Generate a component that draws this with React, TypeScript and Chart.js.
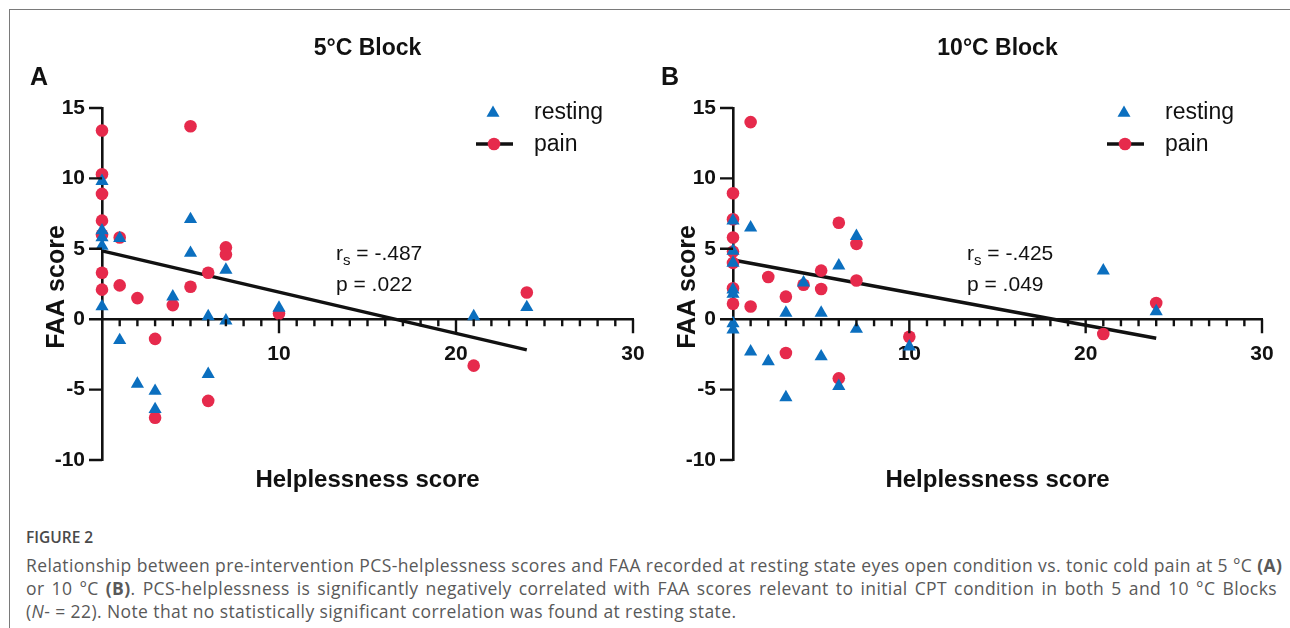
import React, { useEffect, useRef } from "react";
import { Chart, registerables } from "chart.js";

Chart.register(...registerables);

// ---------- axis ranges & ticks ----------
const X_MIN = 0;
const X_MAX = 30;
const Y_MIN = -10;
const Y_MAX = 15;
const yTickValues = [15, 10, 5, 0, -5, -10];
const xLabelledTicks = [10, 20, 30];

// ---------- Panel A: 5°C Block ----------
const painA_x = [0, 0, 0, 0, 0, 0, 0, 1, 1, 2, 3, 3, 4, 5, 5, 6, 6, 7, 7, 10, 21, 24];
const painA_y = [13.4, 10.3, 8.9, 7.0, 6.0, 3.3, 2.1, 5.8, 2.4, 1.5, -1.4, -7.0, 1.0, 13.7, 2.3, 3.3, -5.8, 5.1, 4.6, 0.4, -3.3, 1.9];
const restA_x = [0, 0, 0, 0, 0, 1, 1, 2, 3, 3, 4, 5, 5, 6, 6, 7, 7, 10, 21, 24];
const restA_y = [9.8, 6.3, 5.8, 5.2, 0.9, 5.75, -1.5, -4.6, -5.1, -6.4, 1.6, 7.1, 4.7, 0.2, -3.9, 3.5, -0.1, 0.8, 0.2, 0.85];
const fitA_x = [0, 24];
const fitA_y = [4.85, -2.18];

// ---------- Panel B: 10°C Block ----------
const painB_x = [0, 0, 0, 0, 0, 0, 0, 1, 1, 2, 3, 3, 4, 5, 5, 6, 6, 7, 7, 10, 21, 24];
const painB_y = [8.95, 7.1, 5.8, 4.8, 4.0, 2.2, 1.1, 14.0, 0.9, 3.0, 1.6, -2.4, 2.45, 3.45, 2.15, 6.85, -4.2, 5.35, 2.75, -1.25, -1.05, 1.15];
const restB_x = [0, 0, 0, 0, 0, 0, 0, 1, 1, 2, 3, 3, 4, 5, 5, 6, 6, 7, 7, 10, 21, 24];
const restB_y = [7.0, 4.85, 4.0, 2.1, 1.8, -0.3, -0.75, 6.5, -2.3, -3.0, 0.45, -5.55, 2.6, 0.45, -2.65, 3.8, -4.75, 5.9, -0.7, -1.95, 3.45, 0.55];
const fitB_x = [0, 24];
const fitB_y = [4.2, -1.35];

// ---------- texts ----------
const panelTitles = ["5°C Block", "10°C Block"];
const panelLetters = ["A", "B"];
const statR = ["-.487", "-.425"];
const statP = [".022", ".049"];
const seriesLabels = ["resting", "pain"];
const xAxisTitle = "Helplessness score";
const yAxisTitle = "FAA score";

const BLUE = "#0b6fbf";
const RED = "#e62a4c";
const FONT = '"Liberation Sans", Arial, Helvetica, sans-serif';

const zip = (xs: number[], ys: number[]) => xs.map((x, i) => ({ x, y: ys[i] }));

type PanelSpec = {
  idx: number;
  painX: number[];
  painY: number[];
  restX: number[];
  restY: number[];
  fitX: number[];
  fitY: number[];
  padRight: number;
};

const panels: PanelSpec[] = [
  { idx: 0, painX: painA_x, painY: painA_y, restX: restA_x, restY: restA_y, fitX: fitA_x, fitY: fitA_y, padRight: 12 },
  { idx: 1, painX: painB_x, painY: painB_y, restX: restB_x, restY: restB_y, fitX: fitB_x, fitY: fitB_y, padRight: 14 },
];

const CANVAS_W = 645;
const CANVAS_H = 510;

function decorPlugin(p: PanelSpec) {
  return {
    id: "decor" + p.idx,
    afterDraw(chart: any) {
      const ctx: CanvasRenderingContext2D = chart.ctx;
      const xs = chart.scales.x;
      const ys = chart.scales.y;
      const area = chart.chartArea;
      const y0 = ys.getPixelForValue(0);
      const cx = (area.left + area.right) / 2;
      ctx.save();
      // tick marks
      ctx.strokeStyle = "#111";
      ctx.lineWidth = 2.4;
      ctx.beginPath();
      for (const v of yTickValues) {
        const y = ys.getPixelForValue(v);
        ctx.moveTo(area.left - 13, y);
        ctx.lineTo(area.left, y);
      }
      for (let v = X_MIN + 1; v <= X_MAX; v++) {
        const x = xs.getPixelForValue(v);
        const len = v % 10 === 0 ? 14 : 7;
        ctx.moveTo(x, y0);
        ctx.lineTo(x, y0 + len);
      }
      ctx.stroke();

      ctx.fillStyle = "#111";
      // title
      ctx.font = `bold 23px ${FONT}`;
      ctx.textAlign = "center";
      ctx.textBaseline = "middle";
      ctx.fillText(panelTitles[p.idx], cx, 49);
      // panel letter
      ctx.font = `bold 25px ${FONT}`;
      ctx.textAlign = "left";
      ctx.fillText(panelLetters[p.idx], 30, 78);
      // x axis title
      ctx.font = `bold 24px ${FONT}`;
      ctx.textAlign = "center";
      ctx.fillText(xAxisTitle, cx, 480);
      // y axis title
      ctx.save();
      ctx.translate(57, 287);
      ctx.rotate(-Math.PI / 2);
      ctx.font = `bold 25px ${FONT}`;
      ctx.fillText(yAxisTitle, 0, 0);
      ctx.restore();

      // legend
      const lx = 493;
      ctx.fillStyle = BLUE;
      const r = 7.5;
      ctx.beginPath();
      for (let k = 0; k < 3; k++) {
        const a = (k * 2 * Math.PI) / 3;
        const px = lx + Math.sin(a) * r;
        const py = 113 - Math.cos(a) * r;
        if (k === 0) ctx.moveTo(px, py);
        else ctx.lineTo(px, py);
      }
      ctx.closePath();
      ctx.fill();
      ctx.strokeStyle = "#111";
      ctx.lineWidth = 3.5;
      ctx.beginPath();
      ctx.moveTo(lx - 17, 144);
      ctx.lineTo(lx + 20, 144);
      ctx.stroke();
      ctx.fillStyle = RED;
      ctx.beginPath();
      ctx.arc(lx + 1, 144, 6.3, 0, Math.PI * 2);
      ctx.fill();
      ctx.fillStyle = "#111";
      ctx.font = `23px ${FONT}`;
      ctx.textAlign = "left";
      ctx.textBaseline = "middle";
      ctx.fillText(seriesLabels[0], 534, 113);
      ctx.fillText(seriesLabels[1], 534, 145);

      // statistics
      ctx.textBaseline = "alphabetic";
      ctx.font = `21px ${FONT}`;
      let sx = 336;
      ctx.fillText("r", sx, 260);
      sx += ctx.measureText("r").width;
      ctx.font = `15px ${FONT}`;
      ctx.fillText("s", sx, 265);
      sx += ctx.measureText("s").width;
      ctx.font = `21px ${FONT}`;
      ctx.fillText(" = " + statR[p.idx], sx, 260);
      ctx.fillText("p = " + statP[p.idx], 336, 291);
      ctx.restore();
    },
  };
}

function Panel({ spec, left }: { spec: PanelSpec; left: number }) {
  const ref = useRef<HTMLCanvasElement | null>(null);
  useEffect(() => {
    if (!ref.current) return;
    const tickFont = { family: FONT, size: 21, weight: "bold" as const };
    const chart = new Chart(ref.current, {
      type: "scatter",
      data: {
        datasets: [
          {
            label: seriesLabels[0],
            data: zip(spec.restX, spec.restY),
            pointStyle: "triangle",
            pointRadius: 7.6,
            backgroundColor: BLUE,
            borderColor: BLUE,
            borderWidth: 0,
            order: 1,
            clip: false,
          } as any,
          {
            label: seriesLabels[1],
            data: zip(spec.painX, spec.painY),
            pointStyle: "circle",
            pointRadius: 6.3,
            backgroundColor: RED,
            borderColor: RED,
            borderWidth: 0,
            order: 2,
            clip: false,
          } as any,
          {
            type: "line",
            label: "fit",
            data: zip(spec.fitX, spec.fitY),
            borderColor: "#111",
            borderWidth: 3.5,
            pointRadius: 0,
            showLine: true,
            fill: false,
            order: 3,
            clip: false,
          } as any,
        ],
      },
      options: {
        responsive: false,
        animation: false,
        devicePixelRatio: 1,
        layout: { padding: { left: 0, right: spec.padRight, top: 108, bottom: CANVAS_H - 460 } },
        plugins: {
          legend: { display: false },
          tooltip: { enabled: false },
          title: { display: false },
        },
        scales: {
          x: {
            type: "linear",
            min: X_MIN,
            max: X_MAX,
            position: { y: 0 } as any,
            grid: { display: false, drawTicks: false },
            border: { display: true, color: "#111", width: 2.6 },
            ticks: {
              stepSize: 10,
              autoSkip: false,
              maxRotation: 0,
              padding: 22,
              color: "#111",
              font: tickFont,
              callback: (v: any) => (xLabelledTicks.includes(Number(v)) ? String(v) : ""),
            },
            afterFit: (s: any) => {
              s.paddingLeft = 0;
              s.paddingRight = 0;
            },
          },
          y: {
            type: "linear",
            min: Y_MIN,
            max: Y_MAX,
            grid: { display: false, drawTicks: false },
            border: { display: true, color: "#111", width: 2.6 },
            ticks: {
              stepSize: 5,
              padding: 17,
              color: "#111",
              font: tickFont,
            },
            afterFit: (s: any) => {
              s.width = 102;
              s.paddingTop = 0;
              s.paddingBottom = 0;
            },
          },
        },
      },
      plugins: [decorPlugin(spec)],
    } as any);
    return () => chart.destroy();
  }, [spec]);
  return (
    <canvas
      ref={ref}
      width={CANVAS_W}
      height={CANVAS_H}
      style={{ position: "absolute", left, top: 0, width: CANVAS_W, height: CANVAS_H }}
    />
  );
}

const captionFigure = "FIGURE 2";

export default function App() {
  const capStyle: React.CSSProperties = {
    position: "absolute",
    left: 26,
    width: 1251,
    fontFamily: '"Open Sans", sans-serif',
    fontSize: 17.5,
    letterSpacing: "0.4px",
    color: "#595959",
    whiteSpace: "nowrap",
    lineHeight: "23px",
  };
  return (
    <div style={{ position: "absolute", left: 0, top: 0, width: 1290, height: 628, background: "#fff", overflow: "hidden" }}>
      <div
        style={{
          position: "absolute",
          left: 9,
          top: 9,
          width: 1290,
          height: 640,
          borderTop: "1.5px solid #7a7a7a",
          borderLeft: "1.5px solid #7a7a7a",
        }}
      />
      <Panel spec={panels[0]} left={0} />
      <Panel spec={panels[1]} left={631} />
      <div
        style={{
          position: "absolute",
          left: 26,
          top: 526,
          fontFamily: '"Open Sans", sans-serif',
          fontWeight: 600,
          fontSize: 15.5,
          color: "#4a4a4a",
          lineHeight: "22px",
        }}
      >
        {captionFigure}
      </div>
      <div style={{ ...capStyle, top: 554, textAlign: "justify", textAlignLast: "justify" }}>
        Relationship between pre-intervention PCS-helplessness scores and FAA recorded at resting state eyes open condition vs. tonic cold pain at 5 °C <b>(A)</b>
      </div>
      <div style={{ ...capStyle, top: 577, textAlign: "justify", textAlignLast: "justify" }}>
        or 10 °C <b>(B)</b>. PCS-helplessness is significantly negatively correlated with FAA scores relevant to initial CPT condition in both 5 and 10 °C Blocks
      </div>
      <div style={{ ...capStyle, top: 600 }}>
        (<i>N</i>- = 22). Note that no statistically significant correlation was found at resting state.
      </div>
    </div>
  );
}
